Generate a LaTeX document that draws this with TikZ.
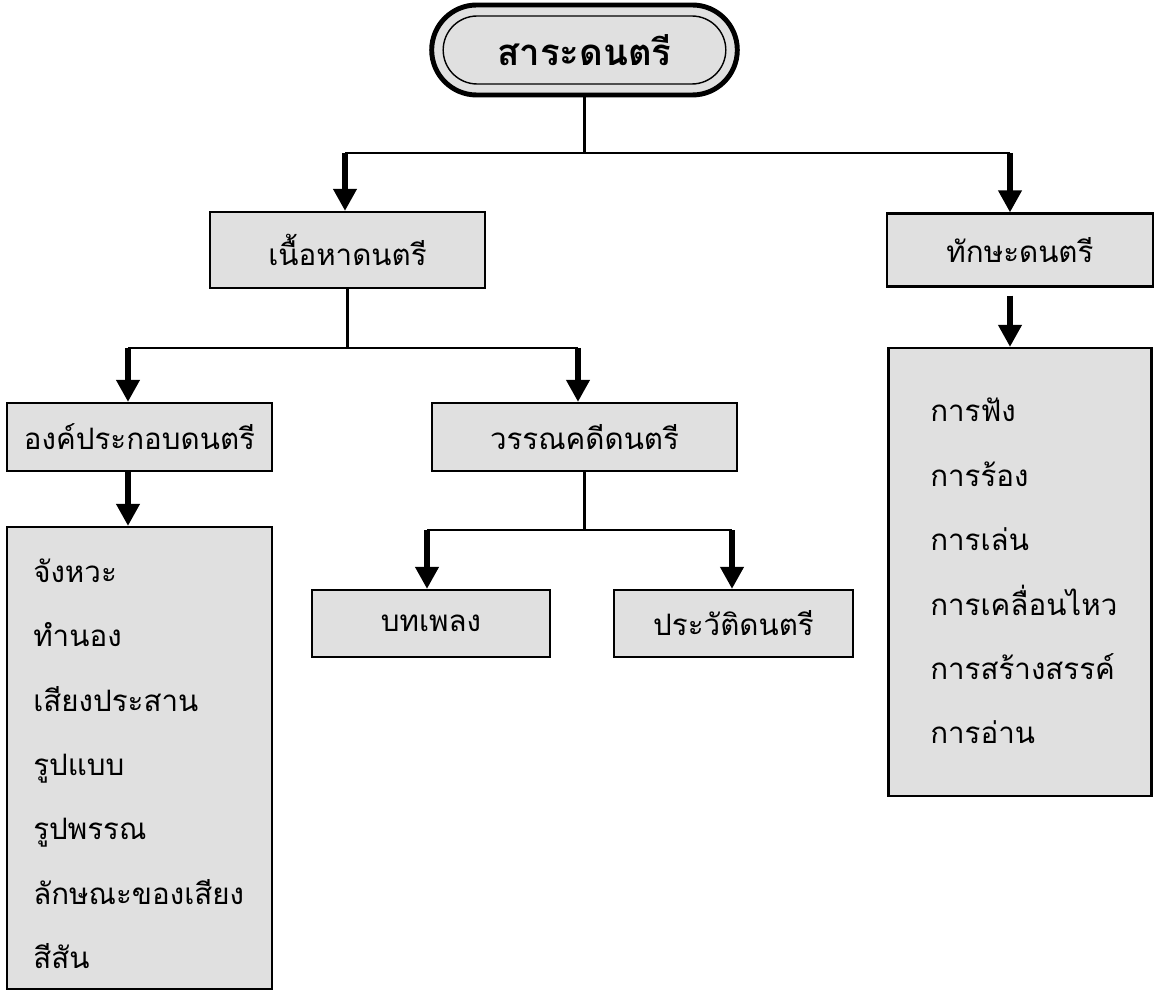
\documentclass[tikz,border=0pt]{standalone}
\usepackage{fontspec}
\newfontfamily\thaifont[Script=Thai]{Loma}
\usetikzlibrary{arrows.meta,shapes.misc}
\usetikzlibrary{positioning}
\tikzset{>={Triangle[length=0.55cm,width=0.56cm]}}

\begin{document}
\begin{tikzpicture}[box/.style={draw, line width=1.5pt, fill=black!12, inner sep=0pt, font=\thaifont\fontsize{21}{25}\selectfont},
	item/.style={anchor=base west, inner sep=0pt, font=\thaifont\fontsize{21}{25}\selectfont},
	link/.style={line width=1.8pt}, flow/.style={->, line width=4pt},
	node distance=1cm, on grid]
	\useasboundingbox (0,0) rectangle (29,-24.775);
		\node[rounded rectangle, draw, line width=3.5pt, fill=black!12, minimum width=7.875cm, minimum height=2.25cm] (titlerim) at (14.6125,-1.25) {};
		\node[rounded rectangle, draw, line width=1pt, minimum width=7.3cm, minimum height=1.7cm, font=\thaifont\bfseries\fontsize{26}{31}\selectfont] (title) at (titlerim) {สาระดนตรี};
		\node[box, minimum width=6.875cm, minimum height=1.9cm] (content) [below left=5cm and 5.925cm of title] {เนื้อหาดนตรี};
		\node[box, minimum width=6.65cm, minimum height=1.825cm] (skill) [right=16.8125cm of content] {ทักษะดนตรี};
		\node[box, minimum width=6.625cm, minimum height=1.7cm] (element) [below left=4.675cm and 5.2cm of content] {องค์ประกอบดนตรี};
		\node[box, minimum width=7.625cm, minimum height=1.7cm] (lit) [right=11.125cm of element] {วรรณคดีดนตรี};
		\node[box, minimum width=5.95cm, minimum height=1.675cm] (song) [below left=4.6625cm and 3.8375cm of lit] {บทเพลง};
		\node[box, minimum width=5.975cm, minimum height=1.675cm] (hist) [right=7.5625cm of song] {ประวัติดนตรี};
		\node[box, minimum width=6.625cm, minimum height=11.55cm] (elemlist) [below=8.025cm of element] {};
		\node[box, minimum width=6.575cm, minimum height=11.2cm] (skilllist) [below=8.05cm of skill] {};
		\node[item] (e1) at (0.825,-14.55) {จังหวะ};
		\node[item] (e2) at (0.825,-16.15) {ทำนอง};
		\node[item] (e3) at (0.825,-17.775) {เสียงประสาน};
		\node[item] (e4) at (0.825,-19.375) {รูปแบบ};
		\node[item] (e5) at (0.825,-20.975) {รูปพรรณ};
		\node[item] (e6) at (0.825,-22.6) {ลักษณะของเสียง};
		\node[item] (e7) at (0.825,-24.2) {สีสัน};
		\node[item] (s1) at (23.25,-10.55) {การฟัง};
		\node[item] (s2) at (23.25,-12.15) {การร้อง};
		\node[item] (s3) at (23.25,-13.75) {การเล่น};
		\node[item] (s4) at (23.25,-15.375) {การเคลื่อนไหว};
		\node[item] (s5) at (23.25,-16.975) {การสร้างสรรค์};
		\node[item] (s6) at (23.25,-18.575) {การอ่าน};
		% forks
		\coordinate[below=2.575cm of titlerim.center] (tf);
		\coordinate[left=5.9875cm of tf] (tl);
		\coordinate[right=10.6375cm of tf] (tr);
		\coordinate[below=2.45cm of content.center] (cf);
		\coordinate[left=5.4875cm of cf] (cl);
		\coordinate[right=5.7625cm of cf] (cr);
		\coordinate[below=2.325cm of lit.center] (lf);
		\coordinate[left=3.9375cm of lf] (ll);
		\coordinate[right=3.6875cm of lf] (lr);
		\draw[link] (titlerim.south) -- (tf);
		\draw[link] (tl) -- (tr);
		\draw[flow] (tl) -- (tl |- content.north);
		\draw[flow] (tr) -- (tr |- skill.north);
		\draw[link] (content.south) -- (cf);
		\draw[link] (cl) -- (cr);
		\draw[flow] (cl) -- (cl |- element.north);
		\draw[flow] (cr) -- (cr |- lit.north);
		\draw[link] (lit.south) -- (lf);
		\draw[link] (ll) -- (lr);
		\draw[flow] (ll) -- (ll |- song.north);
		\draw[flow] (lr) -- (lr |- hist.north);
		\draw[flow] (cl |- element.south) -- (cl |- elemlist.north);
		\draw[flow, shorten <=0.2cm] (tr |- skill.south) -- (tr |- skilllist.north);
	\end{tikzpicture}
\end{document}
